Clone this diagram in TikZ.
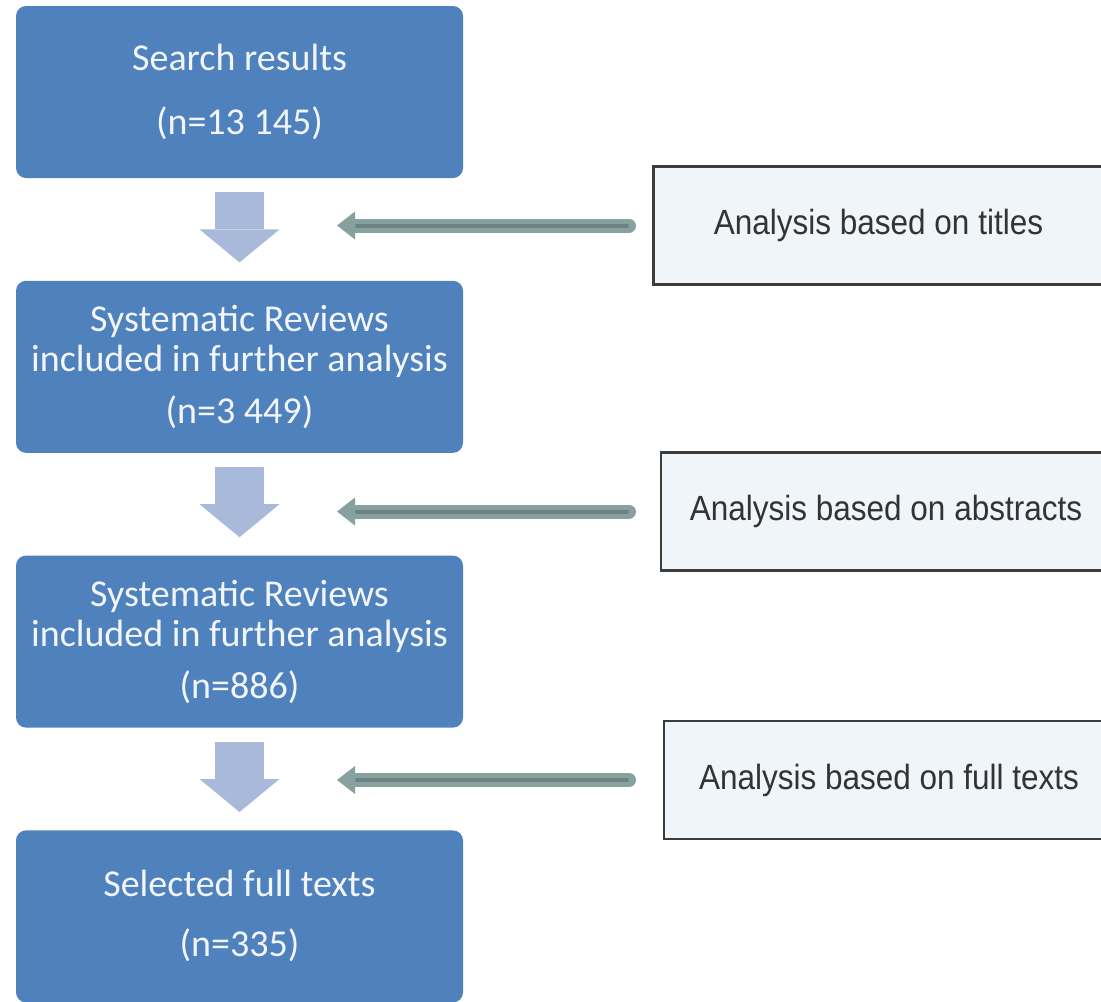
\documentclass[tikz,border=0pt]{standalone}
\usepackage{fontspec}
\setmainfont{Carlito}
\newfontfamily\notefont[FakeStretch=0.9]{Liberation Sans}
\usetikzlibrary{positioning,arrows.meta}
\definecolor{stageblue}{HTML}{4F81BD}
\definecolor{stagetext}{HTML}{F2F5FB}
\definecolor{flowblue}{HTML}{A8B9DA}
\definecolor{notefill}{HTML}{F0F5F9}
\definecolor{noteline}{HTML}{3C3C3C}
\definecolor{sidegreen}{HTML}{87A29E}
\definecolor{sidedark}{HTML}{6C8282}

\begin{document}
\begin{tikzpicture}[
  x=0.5pt, y=-0.5pt,
  stage/.style={fill=stageblue, rounded corners=5pt, align=center, text=stagetext, minimum width=223.5pt, minimum height=86pt, inner sep=2pt, font=\fontsize{19}{20}\selectfont},
  note/.style={draw=noteline, line width=1.2pt, fill=notefill, minimum width=225pt, minimum height=59pt, text=black!80, font=\notefont\fontsize{17.5}{20}\selectfont},
  flowarrow/.style={draw=flowblue, line width=24.5pt, -{Triangle[length=16.5pt,width=40pt,line width=0pt]}, shorten <=7pt, shorten >=9pt},
  sidearrow/.style={draw=sidegreen, line width=7pt, line cap=round, -{Triangle[length=9pt,width=14pt,line width=0pt]}, postaction={draw=sidedark, line width=2pt, -, shorten >=10pt, shorten <=1pt}},
]
\path[use as bounding box, clip] (0,0) rectangle (1101,1001);

% main flow
\node[stage] (search) at (239.5,92) {Search results\\[12pt](n=13 145)};
\node[stage, below=51pt of search] (review1) {Systematic Reviews\\included in further analysis\\[6pt](n=3 449)};
\node[stage, below=51pt of review1] (review2) {Systematic Reviews\\included in further analysis\\[6pt](n=886)};
\node[stage, below=51pt of review2] (selected) {Selected full texts\\[10pt](n=335)};

\draw[flowarrow] (search) -- (review1);
\draw[flowarrow] (review1) -- (review2);
\draw[flowarrow] (review2) -- (selected);

% screening steps
\node[note] (titles) at (878.5,225.5) {Analysis based on titles};
\node[note] (abstracts) at (886,511.5) {Analysis based on abstracts};
\node[note] (fulltexts) at (889,780) {Analysis based on full texts};

\coordinate (tailx) at (629,0);
\coordinate (tipx) at (337,0);
\draw[sidearrow] (titles.west -| tailx) -- (titles.west -| tipx);
\draw[sidearrow] (abstracts.west -| tailx) -- (abstracts.west -| tipx);
\draw[sidearrow] (fulltexts.west -| tailx) -- (fulltexts.west -| tipx);
\end{tikzpicture}
\end{document}
